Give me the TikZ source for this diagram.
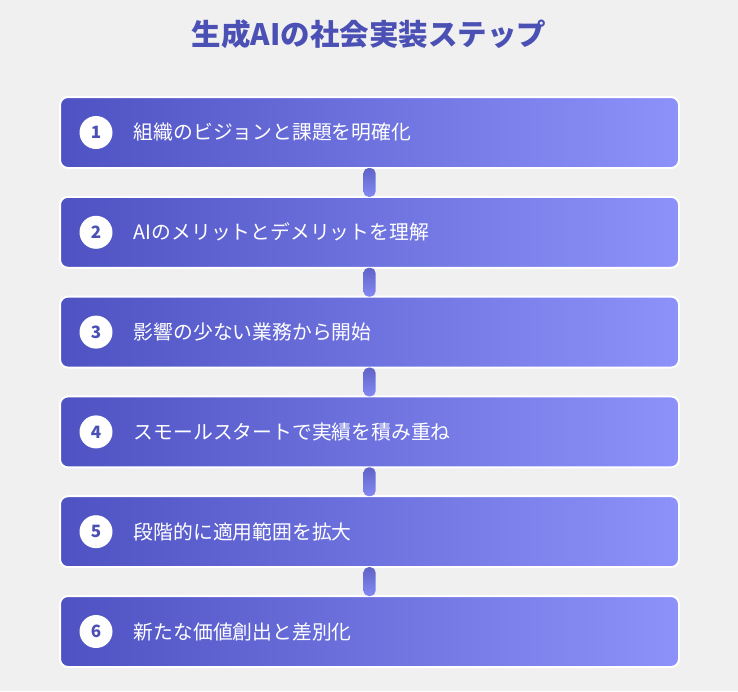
\documentclass[tikz,border=0pt]{standalone}
\usepackage{fontspec}
\setmainfont{Noto Sans CJK JP}
\usetikzlibrary{shapes,positioning}

\definecolor{bg}{HTML}{F0F0F0}
\definecolor{indigo}{HTML}{4B50B5}
\definecolor{gradL}{HTML}{4E52C2}
\definecolor{gradR}{HTML}{8D92FA}

\begin{document}
\begin{tikzpicture}[x=1pt,y=-1pt]
            \tikzstyle{stepbox}=[rectangle,minimum width=619pt,minimum height=71pt,rounded corners=8pt,
                                 draw=white,line width=2pt,left color=gradL,right color=gradR]
            \tikzstyle{num}=[circle,minimum size=33pt,inner sep=0pt,fill=white,text=indigo,
                             font=\fontsize{17}{19}\selectfont\bfseries]
            \tikzstyle{steptext}=[text=white,font=\fontsize{19.8}{23}\selectfont,anchor=west,inner sep=0pt]
            \tikzstyle{link}=[rounded corners=5pt,top color=gradL!90!white,bottom color=gradR!85!gradL]

            \fill[bg] (0,0) rectangle (738,691);
            \useasboundingbox (0,0) rectangle (738,691);

            \node[text=indigo,font=\fontsize{29.5}{33}\selectfont\bfseries] (title) at (369,34) {生成AIの社会実装ステップ};

            \node[stepbox] (s1) at (369.5,132.5) {};
            \node[stepbox] (s2) at (369.5,232.3) {};
            \node[stepbox] (s3) at (369.5,332.1) {};
            \node[stepbox] (s4) at (369.5,431.9) {};
            \node[stepbox] (s5) at (369.5,531.7) {};
            \node[stepbox] (s6) at (369.5,631.5) {};

            \node[num] (n1) at ([xshift=37pt]s1.west) {1};
            \node[num] (n2) at ([xshift=37pt]s2.west) {2};
            \node[num] (n3) at ([xshift=37pt]s3.west) {3};
            \node[num] (n4) at ([xshift=37pt]s4.west) {4};
            \node[num] (n5) at ([xshift=37pt]s5.west) {5};
            \node[num] (n6) at ([xshift=37pt]s6.west) {6};

            \node[steptext,right=21pt of n1] (t1) {組織のビジョンと課題を明確化};
            \node[steptext,right=21pt of n2] (t2) {AIのメリットとデメリットを理解};
            \node[steptext,right=21pt of n3] (t3) {影響の少ない業務から開始};
            \node[steptext,right=21pt of n4] (t4) {スモールスタートで実績を積み重ね};
            \node[steptext,right=21pt of n5] (t5) {段階的に適用範囲を拡大};
            \node[steptext,right=21pt of n6] (t6) {新たな価値創出と差別化};

            % connectors between steps
            \path[link] ([xshift=-6pt,yshift=1pt]s1.south) rectangle ([xshift=6pt,yshift=-1pt]s2.north);
            \path[link] ([xshift=-6pt,yshift=1pt]s2.south) rectangle ([xshift=6pt,yshift=-1pt]s3.north);
            \path[link] ([xshift=-6pt,yshift=1pt]s3.south) rectangle ([xshift=6pt,yshift=-1pt]s4.north);
            \path[link] ([xshift=-6pt,yshift=1pt]s4.south) rectangle ([xshift=6pt,yshift=-1pt]s5.north);
            \path[link] ([xshift=-6pt,yshift=1pt]s5.south) rectangle ([xshift=6pt,yshift=-1pt]s6.north);
\end{tikzpicture}
\end{document}
